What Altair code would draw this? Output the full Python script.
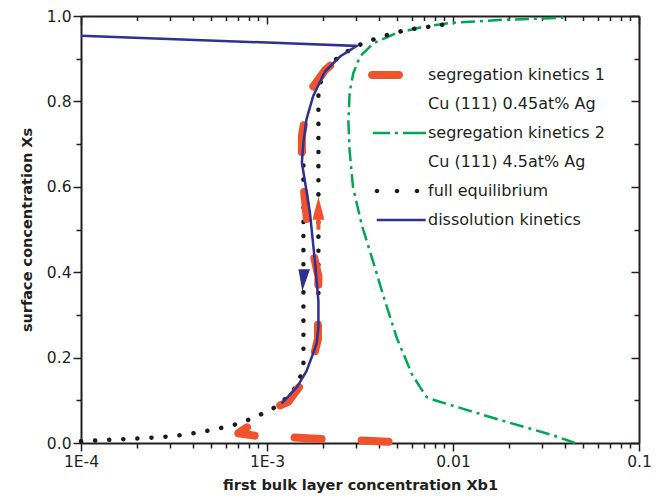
import altair as alt
import pandas as pd

# ---------------- data ----------------
# full equilibrium, lower branch and upper branch
eq_lo_x = [1.0e-4, 1.49e-4, 1.91e-4, 2.55e-4, 3.27e-4, 4.02e-4, 5.14e-4, 6.6e-4, 8.4e-4,
           1.08e-3, 1.33e-3, 1.47e-3, 1.57e-3, 1.57e-3]
eq_lo_y = [0.004, 0.008, 0.010, 0.013, 0.017, 0.023, 0.031, 0.042, 0.058,
           0.081, 0.112, 0.140, 0.178, 0.700]
eq_hi_x = [1.89e-3, 1.89e-3, 2.05e-3, 2.38e-3, 2.86e-3, 3.44e-3, 4.40e-3, 5.64e-3, 7.23e-3, 9.63e-3]
eq_hi_y = [0.351, 0.831, 0.871, 0.901, 0.924, 0.940, 0.955, 0.968, 0.974, 0.982]

# segregation kinetics 1: Cu(111) 0.45at% Ag
seg1_x = [4.5e-3, 3.05e-3, 2.05e-3, 1.33e-3, 8.95e-4, 7.01e-4, 8.44e-4, 1.08e-3, 1.30e-3, 1.70e-3,
          1.88e-3, 1.88e-3, 1.89e-3, 1.66e-3, 1.60e-3, 1.54e-3, 1.54e-3, 1.62e-3, 1.75e-3,
          2.05e-3, 2.69e-3, 2.97e-3]
seg1_y = [0.003, 0.0065, 0.009, 0.0135, 0.016, 0.023, 0.046, 0.081, 0.0965, 0.165,
          0.244, 0.321, 0.390, 0.500, 0.569, 0.641, 0.720, 0.773, 0.831,
          0.873, 0.919, 0.930]

# segregation kinetics 2: Cu(111) 4.5at% Ag
seg2_x = [0.0453, 0.0339, 0.0155, 8.0e-3, 7.2e-3, 6.65e-3, 6.0e-3, 4.98e-3, 4.31e-3, 3.81e-3,
          3.58e-3, 3.23e-3, 2.90e-3, 2.78e-3, 2.74e-3, 2.78e-3, 2.91e-3, 3.16e-3, 3.73e-3,
          4.88e-3, 6.79e-3, 9.83e-3, 0.0183, 0.0392]
seg2_y = [0.0, 0.019, 0.062, 0.100, 0.108, 0.131, 0.162, 0.247, 0.332, 0.410,
          0.448, 0.511, 0.599, 0.685, 0.750, 0.820, 0.866, 0.905, 0.936,
          0.959, 0.974, 0.984, 0.991, 0.996]

# dissolution kinetics
dis_x = [1.0e-4, 3.04e-3, 2.47e-3, 2.05e-3, 1.77e-3, 1.63e-3, 1.57e-3, 1.54e-3, 1.70e-3, 1.81e-3,
         1.89e-3, 1.89e-3, 1.85e-3, 1.74e-3, 1.63e-3, 1.45e-3, 1.20e-3]
dis_y = [0.954, 0.930, 0.905, 0.870, 0.812, 0.758, 0.704, 0.657, 0.541, 0.425,
         0.332, 0.271, 0.233, 0.201, 0.168, 0.131, 0.093]

# direction arrows
arrow_up_x, arrow_up_y = [1.89e-3], [0.538]
arrow_dn_x, arrow_dn_y = [1.58e-3], [0.381]

legend_names = ["segregation kinetics 1", "Cu (111) 0.45at% Ag",
                "segregation kinetics 2", "Cu (111) 4.5at% Ag",
                "full equilibrium", "dissolution kinetics"]

x_ticks = [1e-4, 2e-4, 3e-4, 4e-4, 5e-4, 6e-4, 7e-4, 8e-4, 9e-4,
           1e-3, 2e-3, 3e-3, 4e-3, 5e-3, 6e-3, 7e-3, 8e-3, 9e-3,
           1e-2, 2e-2, 3e-2, 4e-2, 5e-2, 6e-2, 7e-2, 8e-2, 9e-2, 1e-1]
x_major = [1e-4, 1e-3, 1e-2, 1e-1]
x_major_labels = ["1E-4", "1E-3", "0.01", "0.1"]
y_ticks = [0.0, 0.1, 0.2, 0.3, 0.4, 0.5, 0.6, 0.7, 0.8, 0.9, 1.0]

# ---------------- styling ----------------
W, H = 558, 427
FONT = "DejaVu Sans"
INK = "#231F20"
ORANGE = "#F0522B"
GREEN = "#00A651"
BLUE = "#2E3192"
DOT = "#1A1A1A"


def frame(xs, ys, part="a"):
    return pd.DataFrame({"x": xs, "y": ys, "idx": list(range(len(xs))), "part": part})


eq_df = pd.concat([frame(eq_lo_x, eq_lo_y, "lo"), frame(eq_hi_x, eq_hi_y, "hi")])
seg1_df = frame(seg1_x, seg1_y)
seg2_df = frame(seg2_x, seg2_y)
dis_df = frame(dis_x, dis_y)
up_df = pd.DataFrame({"x": arrow_up_x, "y": arrow_up_y})
dn_df = pd.DataFrame({"x": arrow_dn_x, "y": arrow_dn_y})
leg_df = pd.DataFrame({"series": legend_names, "x": [1e-3] * 6, "y": [0.5] * 6})

xs = alt.Scale(type="log", domain=[1e-4, 0.1], nice=False)
ys = alt.Scale(domain=[0, 1], nice=False, zero=False)

x_major_test = "abs(log(datum.value)/LN10 - round(log(datum.value)/LN10)) < 0.001"
y_major_test = "round(datum.value*10) % 2 == 0"

xlab = "''"
for v, lab in reversed(list(zip(x_major, x_major_labels))):
    xlab = f"abs(datum.value - {v}) < {v * 1e-3} ? '{lab}' : ({xlab})"

common = dict(domainColor=INK, domainWidth=2, tickColor=INK, tickWidth=1.5, grid=False)

bottom_axis = alt.Axis(orient="bottom", values=x_ticks, labelExpr=xlab,
                       tickSize={"condition": {"test": x_major_test, "value": 8}, "value": 5},
                       labelFont=FONT, labelFontSize=15.5, labelColor=INK, labelPadding=3,
                       labelFlush=False, labelOverlap=False,
                       title="first bulk layer concentration Xb1", titleFont=FONT,
                       titleFontSize=14.5, titleFontWeight="bold", titleColor=INK,
                       titlePadding=9, **common)
top_axis = alt.Axis(orient="bottom", offset=-H, values=x_ticks, labels=False, title=None,
                    tickSize={"condition": {"test": x_major_test, "value": 8}, "value": 4.5},
                    **common)
left_axis = alt.Axis(orient="left", values=y_ticks,
                     labelExpr=f"{y_major_test} ? format(datum.value, '.1f') : ''",
                     tickSize={"condition": {"test": y_major_test, "value": 8}, "value": 5},
                     labelFont=FONT, labelFontSize=15.5, labelColor=INK, labelPadding=2,
                     labelOverlap=False,
                     title="surface concentration Xs", titleFont=FONT, titleFontSize=14.5,
                     titleFontWeight="bold", titleColor=INK, titlePadding=12, **common)
right_axis = alt.Axis(orient="left", offset=-W, values=y_ticks, labels=False, title=None,
                      tickSize={"condition": {"test": y_major_test, "value": 8}, "value": 5},
                      **common)


def enc(axis_x=None, axis_y=None):
    return dict(x=alt.X("x:Q", scale=xs, axis=axis_x), y=alt.Y("y:Q", scale=ys, axis=axis_y))


green = alt.Chart(seg2_df).mark_line(color=GREEN, strokeWidth=2.5, strokeDash=[14, 5, 3, 5]).encode(
    order="idx:Q", **enc(top_axis, right_axis))
eq = alt.Chart(eq_df).mark_line(color=DOT, strokeWidth=4.5, strokeDash=[0.1, 14],
                                strokeCap="round").encode(
    order="idx:Q", detail="part:N", **enc(bottom_axis, left_axis))
orange = alt.Chart(seg1_df).mark_line(color=ORANGE, strokeWidth=8, strokeDash=[27, 40],
                                      strokeCap="round", strokeJoin="round").encode(
    order="idx:Q", **enc())
blue = alt.Chart(dis_df).mark_line(color=BLUE, strokeWidth=2.5).encode(order="idx:Q", **enc())

up_arrow = alt.Chart(up_df).mark_point(
    shape="M0,-1 L0.36,0.39 L0.12,0.39 L0.12,1 L-0.12,1 L-0.12,0.39 L-0.36,0.39 Z",
    filled=True, color=ORANGE, size=1089, opacity=1).encode(**enc())
dn_arrow = alt.Chart(dn_df).mark_point(
    shape="M-0.5,-1 L0.55,-1 L-0.15,1 Z",
    filled=True, color=BLUE, size=484, opacity=1).encode(**enc())


def circle(c, r=0.23):
    return f"M{c - r},0 A{r},{r} 0 1 0 {c + r},0 A{r},{r} 0 1 0 {c - r},0 Z"


legend_shapes = [
    "M-4.2,-0.4 L-1.5,-0.4 A0.4,0.4 0 0 1 -1.5,0.4 L-4.2,0.4 A0.4,0.4 0 0 1 -4.2,-0.4 Z",
    "M0,0 L0,0 Z",
    "M-4.1,-0.13 L-2.4,-0.13 L-2.4,0.13 L-4.1,0.13 Z M-1.9,-0.13 L-1.6,-0.13 L-1.6,0.13 L-1.9,0.13 Z "
    "M-1.1,-0.13 L1.2,-0.13 L1.2,0.13 L-1.1,0.13 Z",
    "M0,0 L0,0 Z",
    circle(-3.7) + " " + circle(-1.7) + " " + circle(0.3),
    "M-3.73,-0.13 L1.17,-0.13 L1.17,0.13 L-3.73,0.13 Z",
]
legend_colors = [ORANGE, "transparent", GREEN, "transparent", DOT, BLUE]

leg = alt.Legend(title=None, orient="none", legendX=323, legendY=49, symbolSize=400,
                 symbolStrokeWidth=0, symbolOpacity=1, labelFont=FONT, labelFontSize=16,
                 labelColor=INK, labelOffset=4, labelLimit=400, rowPadding=11, padding=0)

legend_layer = alt.Chart(leg_df).transform_filter("false").mark_point(filled=True).encode(
    shape=alt.Shape("series:N", scale=alt.Scale(domain=legend_names, range=legend_shapes), legend=leg),
    fill=alt.Fill("series:N", scale=alt.Scale(domain=legend_names, range=legend_colors), legend=leg),
    **enc())

chart = alt.layer(green, eq, orange, blue, up_arrow, dn_arrow, legend_layer).resolve_axis(
    x="independent", y="independent"
).properties(
    width=W, height=H, autosize="none",
    padding={"left": 73, "top": 8, "right": 20, "bottom": 56},
    background="white",
).configure_view(stroke="transparent")

chart.save("out.html", embed_options={"renderer": "svg", "actions": False})
